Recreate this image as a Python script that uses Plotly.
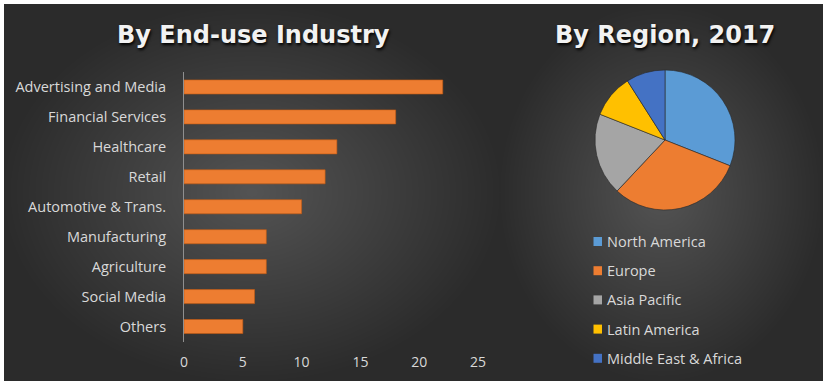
import plotly.graph_objects as go

# ---- data ----
industries = ["Advertising and Media", "Financial Services", "Healthcare", "Retail",
              "Automotive & Trans.", "Manufacturing", "Agriculture", "Social Media", "Others"]
industry_values = [22, 18, 13, 12, 10, 7, 7, 6, 5]

regions = ["North America", "Europe", "Asia Pacific", "Latin America", "Middle East & Africa"]
region_shares = [31, 31, 19, 10, 9]
region_colors = ["#5B9BD5", "#ED7D31", "#A5A5A5", "#FFC000", "#4472C4"]

x_ticks = [0, 5, 10, 15, 20, 25]

W, H = 827, 383


def px(x):
    return x / W


def py(y):
    return 1 - y / H


fig = go.Figure()

fig.add_trace(go.Bar(
    x=industry_values, y=industries, orientation="h",
    marker=dict(color="#ED7D31", line=dict(color="#C55A11", width=0.6)),
    xaxis="x", yaxis="y", showlegend=False, hoverinfo="x+y",
))

fig.add_trace(go.Pie(
    labels=regions, values=region_shares, sort=False, direction="clockwise",
    rotation=0, marker=dict(colors=region_colors, line=dict(color="rgba(40,40,40,0.6)", width=1)),
    textinfo="none", showlegend=False,
    domain=dict(x=[px(595), px(735)], y=[py(210), py(70)]),
))

# ---- backgrounds (radial gradient imitation with stacked translucent ellipses) ----
shapes = []
panels = [(4, 500, 4, 381), (500, 823, 4, 381)]
for (x0, x1, y0, y1) in panels:
    shapes.append(dict(type="rect", xref="paper", yref="paper", layer="below",
                       x0=px(x0), x1=px(x1), y0=py(y1), y1=py(y0),
                       fillcolor="#2b2b2b", line=dict(width=0)))
    cx, cy = (x0 + x1) / 2, (y0 + y1) / 2
    hw, hh = (x1 - x0) / 2, (y1 - y0) / 2
    n = 40
    for k in range(n):
        f = 1 - k / n
        shapes.append(dict(type="circle", xref="paper", yref="paper", layer="below",
                           x0=px(cx - hw * f), x1=px(cx + hw * f),
                           y0=py(cy + hh * f), y1=py(cy - hh * f),
                           fillcolor="rgba(255,255,255,0.0085)", line=dict(width=0)))

title_font = dict(family="DejaVu Sans", size=24, color="#f2f2f2", weight="bold",
                  shadow="1px 2px 3px #000000")
annotations = [
    dict(text="By End-use Industry", x=px(254), y=py(35), xref="paper", yref="paper",
         showarrow=False, xanchor="center", yanchor="middle", font=title_font),
    dict(text="By Region, 2017", x=px(665), y=py(35), xref="paper", yref="paper",
         showarrow=False, xanchor="center", yanchor="middle", font=title_font),
]

# ---- manual legend ----
leg_y0, leg_step = 241.5, 29.2
for i, (name, col) in enumerate(zip(regions, region_colors)):
    yc = leg_y0 + i * leg_step
    shapes.append(dict(type="rect", xref="paper", yref="paper",
                       x0=px(593.5), x1=px(602), y0=py(yc + 4.5), y1=py(yc - 4.5),
                       fillcolor=col, line=dict(width=0)))
    annotations.append(dict(text=name, x=px(605), y=py(yc), xref="paper", yref="paper",
                            showarrow=False, xanchor="left", yanchor="middle",
                            font=dict(family="Open Sans", size=14.5, color="#d9d9d9")))

fig.update_layout(
    width=W, height=H, margin=dict(l=0, r=0, t=0, b=0, autoexpand=False),
    paper_bgcolor="#ffffff", plot_bgcolor="rgba(0,0,0,0)",
    bargap=0.53,
    xaxis=dict(domain=[px(184), px(478)], range=[0, 25], tickvals=x_ticks,
               showgrid=False, zeroline=False, showline=False, ticks="",
               tickfont=dict(family="Open Sans", size=14, color="#d9d9d9"),
               ticklabelstandoff=10, fixedrange=True, automargin=False),
    yaxis=dict(domain=[py(341.5), py(72)], autorange="reversed", categoryorder="array",
               categoryarray=industries, showgrid=False, zeroline=False,
               showline=True, linecolor="#8f8f8f", linewidth=1, ticks="",
               tickfont=dict(family="Open Sans", size=14.5, color="#d9d9d9"),
               ticklabelstandoff=14, fixedrange=True, automargin=False),
    shapes=shapes, annotations=annotations,
)

fig.write_html(
    "out.html",
    config={"displayModeBar": False, "responsive": False},
    post_script=("document.body.style.margin='0';"
                 "document.body.style.overflow='hidden';"
                 "document.documentElement.style.overflow='hidden';"),
)
